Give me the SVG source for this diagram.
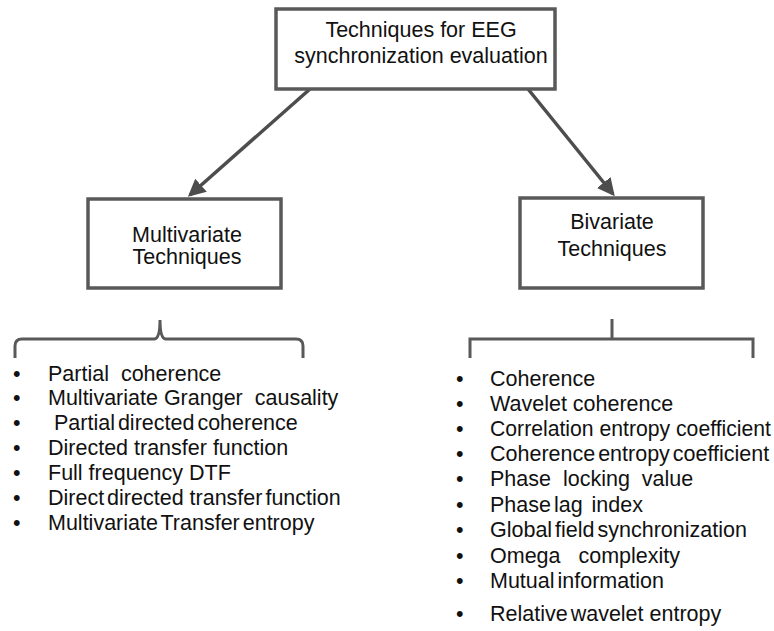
<svg xmlns="http://www.w3.org/2000/svg" width="774" height="631" viewBox="0 0 774 631">
<style>
text{font-family:"Liberation Sans",Arial,sans-serif;font-size:21.5px;fill:#111;white-space:pre}
.c{text-anchor:middle}
.box{fill:#fff;stroke:#595959;stroke-width:3.5}
.ln{fill:none;stroke:#4d4d4d;stroke-width:3.5}
.br{fill:none;stroke:#595959;stroke-width:3}
.t{word-spacing:-3px}
</style>
<defs>
<marker id="ah" markerWidth="5" markerHeight="5" refX="4.2" refY="2.5" orient="auto" markerUnits="strokeWidth">
<path d="M0,0 L5,2.5 L0,5 Z" fill="#4d4d4d"/>
</marker>
</defs>
<g id="connectors">
<line class="ln" x1="310" y1="89" x2="190" y2="195" marker-end="url(#ah)"/>
<line class="ln" x1="528" y1="89" x2="613" y2="194" marker-end="url(#ah)"/>
<path class="br" d="M15,358 V346 Q15,339 22,339 H154 Q160,339 160,320 Q160,339 166,339 H296 Q303,339 303,346 V358"/>
<path class="br" d="M470,358 V339 H753 V358 M612,339 V319"/>
</g>
<g id="root">
<rect class="box" x="276" y="9" width="279" height="80"/>
<text class="c" x="421" y="37">Techniques for EEG</text>
<text class="c" x="421" y="63">synchronization evaluation</text>
</g>
<g id="multivariate">
<rect class="box" x="88" y="199" width="193" height="89"/>
<text class="c" x="187" y="242">Multivariate</text>
<text class="c" x="187" y="264">Techniques</text>
</g>
<g id="bivariate">
<rect class="box" x="520" y="198" width="183" height="90"/>
<text class="c" x="612" y="229">Bivariate</text>
<text class="c" x="612" y="256">Techniques</text>
</g>
<g id="multivariate-list">
<text x="13" y="381">•</text><text x="48" y="381">Partial  coherence</text>
<text x="13" y="405">•</text><text x="48" y="405">Multivariate Granger  causality</text>
<text x="13" y="430">•</text><text x="54" y="430" class="t">Partial directed coherence</text>
<text x="13" y="455">•</text><text x="48" y="455">Directed transfer function</text>
<text x="13" y="480">•</text><text x="48" y="480">Full frequency DTF</text>
<text x="13" y="505">•</text><text x="48" y="505" class="t">Direct directed  transfer function</text>
<text x="13" y="530">•</text><text x="48" y="530" class="t">Multivariate Transfer entropy</text>
</g>
<g id="bivariate-list">
<text x="456" y="386">•</text><text x="490" y="386">Coherence</text>
<text x="456" y="411">•</text><text x="490" y="411">Wavelet coherence</text>
<text x="456" y="436">•</text><text x="490" y="436" textLength="281" lengthAdjust="spacingAndGlyphs">Correlation entropy coefficient</text>
<text x="456" y="461">•</text><text x="490" y="461" class="t">Coherence entropy coefficient</text>
<text x="456" y="486">•</text><text x="490" y="486">Phase  locking  value</text>
<text x="456" y="512">•</text><text x="490" y="512" class="t">Phase lag   index</text>
<text x="456" y="537">•</text><text x="490" y="537" class="t">Global field synchronization</text>
<text x="456" y="563">•</text><text x="490" y="563">Omega   complexity</text>
<text x="456" y="588">•</text><text x="490" y="588" class="t">Mutual information</text>
<text x="456" y="621">•</text><text x="490" y="621" class="t">Relative wavelet  entropy</text>
</g>
</svg>
